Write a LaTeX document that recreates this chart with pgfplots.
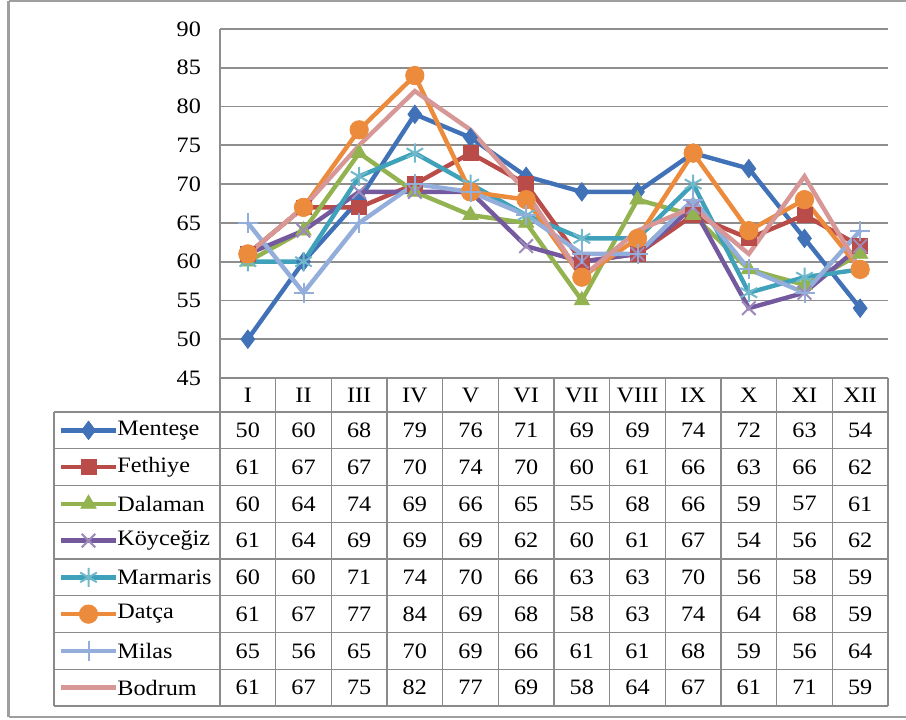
\documentclass[border=0pt]{standalone}
\usepackage{fontspec}
\setmainfont{Liberation Serif}[FakeStretch=1.1]
\usepackage{pgfplots}
\usepackage{pgfplotstable}
\pgfplotsset{compat=1.18}

\definecolor{cMen}{HTML}{4172B8}
\definecolor{cFet}{HTML}{B94B48}
\definecolor{cDal}{HTML}{92B350}
\definecolor{cKoy}{HTML}{74599F}
\definecolor{cMar}{HTML}{40A2BA}
\definecolor{cDat}{HTML}{EC8B3C}
\definecolor{cMil}{HTML}{93AEDA}
\definecolor{cBod}{HTML}{D69796}
\definecolor{cGrid}{HTML}{8E8E8E}
\definecolor{cTbl}{HTML}{8A8A8A}

\pgfplotstableread{
m rom Mentese Fethiye Dalaman Koycegiz Marmaris Datca Milas Bodrum
1 I 50 61 60 61 60 61 65 61
2 II 60 67 64 64 60 67 56 67
3 III 68 67 74 69 71 77 65 75
4 IV 79 70 69 69 74 84 70 82
5 V 76 74 66 69 70 69 69 77
6 VI 71 70 65 62 66 68 66 69
7 VII 69 60 55 60 63 58 61 58
8 VIII 69 61 68 61 63 63 61 64
9 IX 74 66 66 67 70 74 68 67
10 X 72 63 59 54 56 64 59 61
11 XI 63 66 57 56 58 68 56 71
12 XII 54 62 61 62 59 59 64 59
}\data

\newcommand\tf{\fontsize{11}{13}\selectfont}

\pgfplotsset{
  sMen/.style={color=cMen, line width=2.2pt, mark=diamond*, mark size=4.6pt, mark options={solid, line width=0.4pt}},
  sFet/.style={color=cFet, line width=2.2pt, mark=square*, mark size=3.7pt, mark options={solid, line width=0.4pt}},
  sDal/.style={color=cDal, line width=2.2pt, mark=triangle*, mark size=4.4pt, mark options={solid, line width=0.4pt}},
  sKoy/.style={color=cKoy, line width=2.2pt, mark=x, mark size=4.8pt, mark options={solid, line width=1pt, color=cKoy!70!white}},
  sMar/.style={color=cMar, line width=2.2pt, mark=asterisk, mark size=4.8pt, mark options={solid, line width=1pt, color=cMar!75!white}},
  sDat/.style={color=cDat, line width=2.2pt, mark=*, mark size=4.6pt, mark options={solid, line width=0.4pt}},
  sMil/.style={color=cMil, line width=2.2pt, mark=+, mark size=5pt, mark options={solid, line width=1pt}},
  sBod/.style={color=cBod, line width=2.2pt, mark=none},
  tval/.style={draw=none, mark=none, nodes near coords, point meta=explicit symbolic,
    nodes near coords align={center}, every node near coord/.append style={font=\tf, inner sep=0pt, text=black}},
}

\begin{document}
\begin{tikzpicture}
\useasboundingbox (0,0) rectangle (453pt,359.5pt);
\fill[white] (0,0) rectangle (453pt,359.5pt);
% outer frame
\draw[gray!75, line width=1.5pt] (4.3pt,1.2pt) -- (4.3pt,359pt);
\draw[gray!75, line width=0.9pt] (4.3pt,359pt) -- (453pt,359pt);
\draw[gray!75, line width=0.9pt] (4.3pt,1.2pt) -- (453pt,1.2pt);

\begin{axis}[
  at={(110pt,170.5pt)}, anchor=south west,
  scale only axis, width=334pt, height=174.5pt,
  xmin=0.5, xmax=12.5, ymin=45, ymax=90,
  ytick={45,50,...,90}, xtick=\empty,
  axis x line=none, axis y line*=left,
  axis line style={cGrid, line width=0.9pt},
  ymajorgrids, major grid style={cGrid, line width=0.9pt},
  major tick length=0pt,
  yticklabel style={font=\tf, /pgf/number format/assume math mode=true, xshift=-6pt},
  clip=false,
]
\addplot[sMen] table[x=m,y=Mentese]{\data};
\addplot[sFet] table[x=m,y=Fethiye]{\data};
\addplot[sDal] table[x=m,y=Dalaman]{\data};
\addplot[sKoy] table[x=m,y=Koycegiz]{\data};
\addplot[sMar] table[x=m,y=Marmaris]{\data};
\addplot[sDat] table[x=m,y=Datca]{\data};
\addplot[sMil] table[x=m,y=Milas]{\data};
\addplot[sBod] table[x=m,y=Bodrum]{\data};
\end{axis}

\begin{axis}[
  at={(110pt,6.5pt)}, anchor=south west,
  scale only axis, width=334pt, height=147pt,
  xmin=0.5, xmax=12.5, ymin=0, ymax=8,
  hide axis, clip=false,
]
% table grid
\pgfplotsinvokeforeach{0,1,2,3,4,5,6,7,8}{
  \draw[cTbl, line width=0.7pt] (axis cs:-2.48,#1) -- (axis cs:12.5,#1);
}
\draw[cTbl, line width=0.7pt] (axis cs:0.5,8.925) -- (axis cs:12.5,8.925);
\draw[cTbl, line width=0.7pt] (axis cs:-2.48,0) -- (axis cs:-2.48,8);
\pgfplotsinvokeforeach{0.5,1.5,2.5,3.5,4.5,5.5,6.5,7.5,8.5,9.5,10.5,11.5,12.5}{
  \draw[cTbl, line width=0.7pt] (axis cs:#1,0) -- (axis cs:#1,8.925);
}
% header
\addplot[tval] table[x=m, y expr=8.4625, meta=rom]{\data};
% values
\addplot[tval] table[x=m, y expr=7.5, meta=Mentese]{\data};
\addplot[tval] table[x=m, y expr=6.5, meta=Fethiye]{\data};
\addplot[tval] table[x=m, y expr=5.5, meta=Dalaman]{\data};
\addplot[tval] table[x=m, y expr=4.5, meta=Koycegiz]{\data};
\addplot[tval] table[x=m, y expr=3.5, meta=Marmaris]{\data};
\addplot[tval] table[x=m, y expr=2.5, meta=Datca]{\data};
\addplot[tval] table[x=m, y expr=1.5, meta=Milas]{\data};
\addplot[tval] table[x=m, y expr=0.5, meta=Bodrum]{\data};
% legend keys
\addplot[sMen, mark indices={2}] coordinates {(-2.356,7.5) (-1.862,7.5) (-1.368,7.5)};
\addplot[sFet, mark indices={2}] coordinates {(-2.356,6.5) (-1.862,6.5) (-1.368,6.5)};
\addplot[sDal, mark indices={2}] coordinates {(-2.356,5.5) (-1.862,5.5) (-1.368,5.5)};
\addplot[sKoy, mark indices={2}] coordinates {(-2.356,4.5) (-1.862,4.5) (-1.368,4.5)};
\addplot[sMar, mark indices={2}] coordinates {(-2.356,3.5) (-1.862,3.5) (-1.368,3.5)};
\addplot[sDat, mark indices={2}] coordinates {(-2.356,2.5) (-1.862,2.5) (-1.368,2.5)};
\addplot[sMil, mark indices={2}] coordinates {(-2.356,1.5) (-1.862,1.5) (-1.368,1.5)};
\addplot[sBod] coordinates {(-2.356,0.5) (-1.368,0.5)};
% legend names
\node[anchor=west, font=\tf, inner sep=0pt] at (axis cs:-1.35,7.5) {Menteşe};
\node[anchor=west, font=\tf, inner sep=0pt] at (axis cs:-1.35,6.5) {Fethiye};
\node[anchor=west, font=\tf, inner sep=0pt] at (axis cs:-1.35,5.5) {Dalaman};
\node[anchor=west, font=\tf, inner sep=0pt] at (axis cs:-1.35,4.5) {Köyceğiz};
\node[anchor=west, font=\tf, inner sep=0pt] at (axis cs:-1.35,3.5) {Marmaris};
\node[anchor=west, font=\tf, inner sep=0pt] at (axis cs:-1.35,2.5) {Datça};
\node[anchor=west, font=\tf, inner sep=0pt] at (axis cs:-1.35,1.5) {Milas};
\node[anchor=west, font=\tf, inner sep=0pt] at (axis cs:-1.35,0.5) {Bodrum};
\end{axis}
\end{tikzpicture}
\end{document}
